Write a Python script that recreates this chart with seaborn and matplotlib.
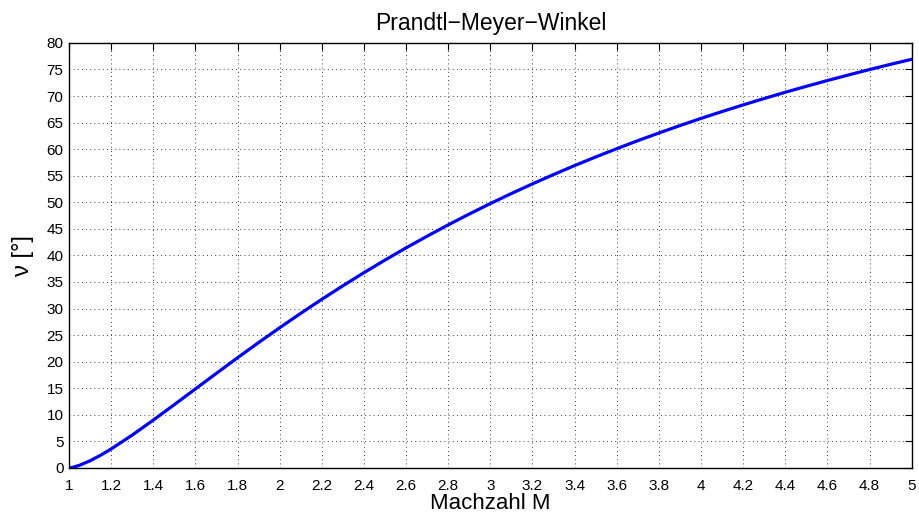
import matplotlib
matplotlib.use("Agg")
import matplotlib.pyplot as plt
import seaborn as sns
import numpy as np
import pandas as pd

mach = [1.0, 1.01, 1.02, 1.05, 1.1, 1.15, 1.2, 1.3, 1.4, 1.5, 1.6, 1.7, 1.8, 1.9, 2.0,
        2.1, 2.2, 2.3, 2.4, 2.5, 2.6, 2.7, 2.8, 2.9, 3.0, 3.1, 3.2, 3.3, 3.4, 3.5,
        3.6, 3.7, 3.8, 3.9, 4.0, 4.1, 4.2, 4.3, 4.4, 4.5, 4.6, 4.7, 4.8, 4.9, 5.0]
nu = [0.0, 0.05, 0.13, 0.49, 1.34, 2.38, 3.56, 6.17, 8.99, 11.91, 14.86, 17.81, 20.73,
      23.59, 26.38, 29.10, 31.73, 34.28, 36.75, 39.12, 41.42, 43.62, 45.75, 47.79,
      49.76, 51.65, 53.47, 55.22, 56.91, 58.53, 60.09, 61.60, 63.04, 64.44, 65.79,
      67.08, 68.33, 69.54, 70.71, 71.83, 72.92, 73.97, 74.99, 75.97, 76.92]

x_ticks = [1.0, 1.2, 1.4, 1.6, 1.8, 2.0, 2.2, 2.4, 2.6, 2.8, 3.0, 3.2, 3.4, 3.6, 3.8,
           4.0, 4.2, 4.4, 4.6, 4.8, 5.0]
x_tick_labels = ["1", "1.2", "1.4", "1.6", "1.8", "2", "2.2", "2.4", "2.6", "2.8", "3",
                 "3.2", "3.4", "3.6", "3.8", "4", "4.2", "4.4", "4.6", "4.8", "5"]
y_ticks = list(range(0, 81, 5))

sns.set_style("white")
plt.rcParams['font.family'] = ['Liberation Sans', 'DejaVu Sans']
plt.rcParams['text.color'] = 'black'
plt.rcParams['axes.labelcolor'] = 'black'

df = pd.DataFrame({"M": mach, "nu": nu})

fig = plt.figure(figsize=(9.2, 5.17), dpi=100)
ax = fig.add_axes([0.075, 0.095, 0.916, 0.822])
sns.lineplot(data=df, x="M", y="nu", ax=ax, color="#0000ff", linewidth=2.3)

ax.set_xlim(1, 5)
ax.set_ylim(0, 80)
ax.set_xticks(x_ticks)
ax.set_xticklabels(x_tick_labels)
ax.set_yticks(y_ticks)
ax.tick_params(direction="in", top=True, right=True, length=5, width=0.8,
               labelsize=11, colors="black", pad=4)
ax.tick_params(axis="x", pad=8)
for s in ax.spines.values():
    s.set_color("black")
    s.set_linewidth(1.0)
ax.grid(True, linestyle=(0, (1, 4)), color="black", linewidth=0.6)
ax.set_title("Prandtl\u2212Meyer\u2212Winkel", fontsize=16.5, pad=9, color="black")
ax.set_xlabel("Machzahl M", fontsize=16, labelpad=0, color="black")
ax.set_ylabel("\u03bd [°]", fontsize=17, labelpad=9, color="black")

fig.savefig("out.png", dpi=100)
